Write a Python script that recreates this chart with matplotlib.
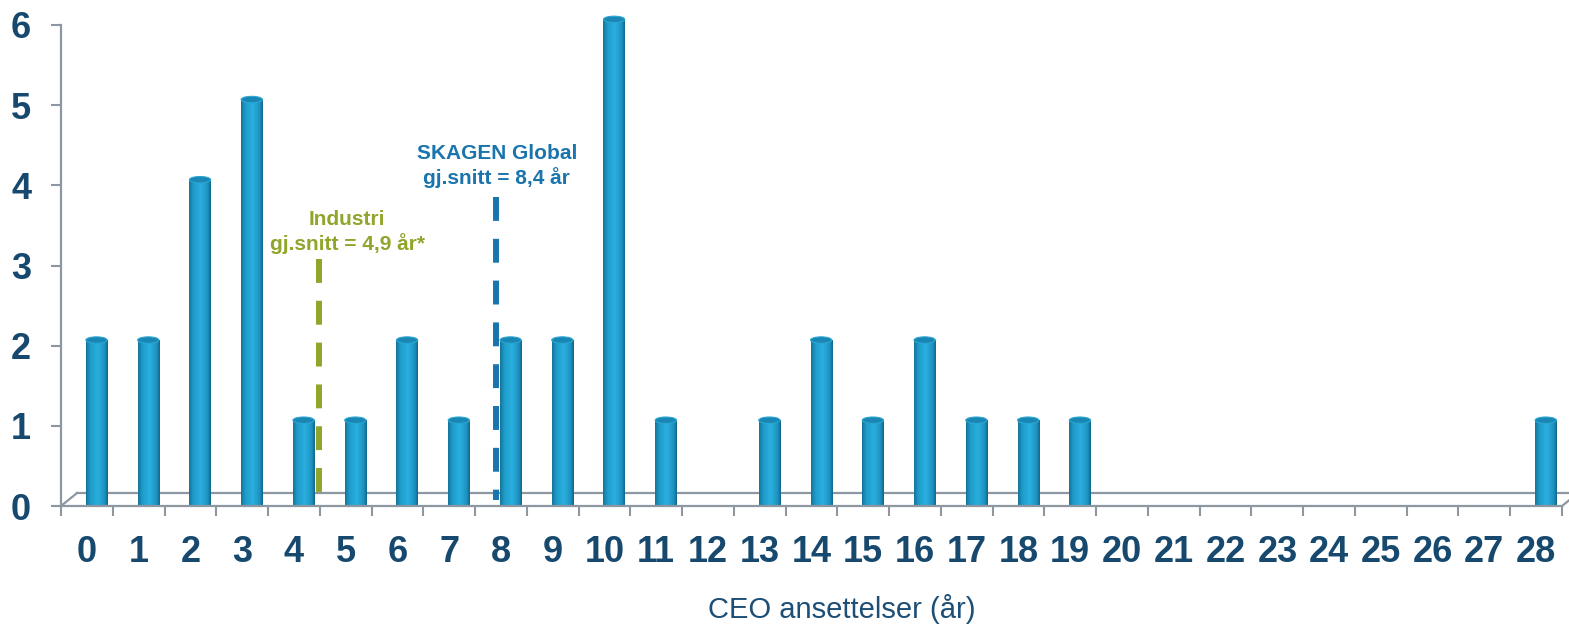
import numpy as np
import matplotlib.pyplot as plt
from matplotlib.patches import Rectangle, Ellipse
from matplotlib.colors import to_rgb

plt.rcParams['font.family'] = ['Liberation Sans', 'DejaVu Sans']

# data
years = [str(i) for i in range(29)]
counts = [2, 2, 4, 5, 1, 1, 2, 1, 2, 2, 6, 1, 0, 1, 2, 1, 2, 1, 1, 1,
          0, 0, 0, 0, 0, 0, 0, 0, 1]
yticks = [0, 1, 2, 3, 4, 5, 6]

industri_label = "Industri\ngj.snitt = 4,9 år*"
skagen_label = "SKAGEN Global\ngj.snitt = 8,4 år"
# where the reference draws the two average markers (category position, top, bottom)
industri_line = (4.485, 3.08, 0.14)
skagen_line = (7.905, 3.85, 0.07)

xlabel = "CEO ansettelser (år)"

# styles
dark = '#17496e'
gray = '#8d97a1'
green = '#8fa52b'
blue = '#1a74ad'

W, H = 1569, 625
fig = plt.figure(figsize=(W / 100, H / 100), dpi=100)
ax = fig.add_axes([61 / W, (H - 506) / H, 1501 / W, 481 / H])

# fake 3d depth of the floor
ddx, ddy = 0.31, 0.162

# cylinder shading across the bar
stops = [0.0, 0.2, 0.55, 0.85, 1.0]
cols = [to_rgb(c) for c in ['#15739a', '#1f9ccb', '#2aafdf', '#1e93c1', '#13678c']]
t = np.linspace(0, 1, 64)
grad = np.stack([np.interp(t, stops, [c[k] for c in cols]) for k in range(3)], axis=-1)[None, :, :]

bw = 0.41
shift = 0.186
base = 0.07
eh = 0.08
for i, v in enumerate(counts):
    if v <= 0:
        continue
    xc = i + shift
    x0, x1 = xc - bw / 2, xc + bw / 2
    top = v + base
    body = Rectangle((x0, base), bw, v, transform=ax.transData)
    im = ax.imshow(grad, extent=[x0, x1, base - eh, top], aspect='auto',
                   zorder=3, clip_on=False, interpolation='bilinear')
    im.set_clip_path(body)
    bot = Ellipse((xc, base), bw, eh, transform=ax.transData)
    im2 = ax.imshow(grad, extent=[x0, x1, base - eh, top], aspect='auto',
                    zorder=3, clip_on=False, interpolation='bilinear')
    im2.set_clip_path(bot)
    ax.add_patch(Ellipse((xc, top), bw, eh, facecolor='#1a86b3',
                         edgecolor='#2aa6d3', lw=0.8, zorder=4, clip_on=False))

# floor
ax.plot([-0.5 + ddx, 28.5 + ddx + 1], [ddy, ddy], color=gray, lw=1.6, zorder=1, clip_on=False)
ax.plot([-0.5, -0.5 + ddx], [0, ddy], color=gray, lw=1.6, zorder=1, clip_on=False)
ax.plot([28.5, 28.5 + ddx], [0, ddy], color=gray, lw=1.6, zorder=1, clip_on=False)

# average markers
ax.plot([industri_line[0]] * 2, industri_line[1:], color=green, lw=4.3,
        dashes=(4, 3), zorder=5, clip_on=False)
ax.plot([skagen_line[0]] * 2, skagen_line[1:], color=blue, lw=4.3,
        dashes=(4, 3), zorder=5, clip_on=False)
ax.text(5.03, 3.42, industri_label, ha='center', va='center', fontsize=15,
        fontweight='bold', color=green, linespacing=1.25)
ax.text(7.92, 4.24, skagen_label, ha='center', va='center', fontsize=15,
        fontweight='bold', color=blue, linespacing=1.25)

ax.set_xlim(-0.5, 28.5)
ax.set_ylim(0, 6)
ax.set_yticks(yticks)
ax.set_yticklabels([str(y) for y in yticks], fontsize=26, fontweight='bold', color=dark)
ax.set_xticks(range(len(years)))
ax.set_xticklabels(years, fontsize=26, fontweight='bold', color=dark)
ax.set_xticks(np.arange(-0.5, 29, 1), minor=True)
ax.tick_params(axis='x', which='major', length=0, pad=21)
ax.tick_params(axis='x', which='minor', length=7.5, width=1.5, color=gray)
ax.tick_params(axis='y', length=7.5, width=1.5, color=gray, pad=14)

for s in ['top', 'right']:
    ax.spines[s].set_visible(False)
for s in ['left', 'bottom']:
    ax.spines[s].set_color(gray)
    ax.spines[s].set_linewidth(1.6)
    ax.spines[s].set_zorder(3.5)
ax.patch.set_visible(False)

fig.text(842 / W, 1 - 609 / H, xlabel, ha='center', va='center', fontsize=21, color='#1d4f76')

fig.savefig('out.png', dpi=100)
